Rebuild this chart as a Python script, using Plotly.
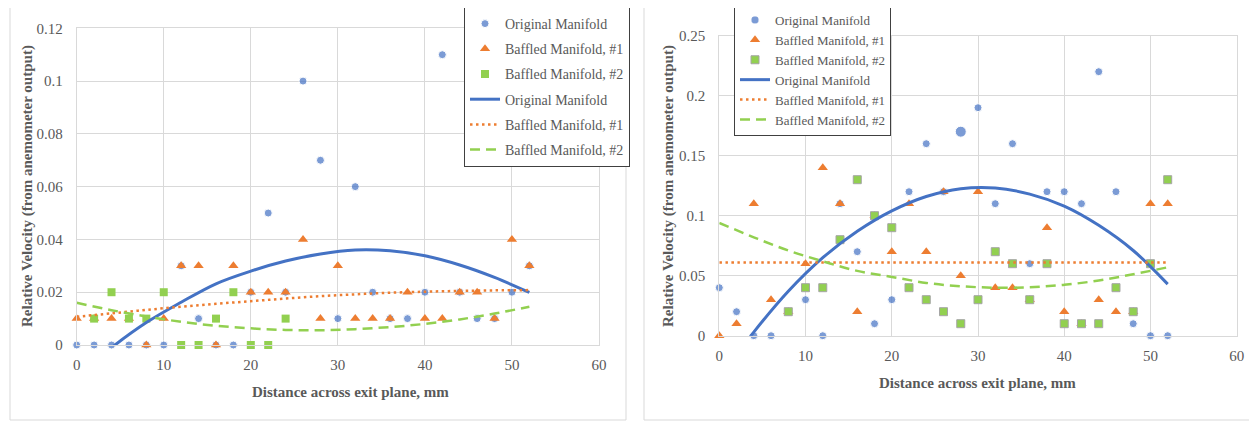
import plotly.graph_objects as go

# ---------------- data ----------------
X = [0, 2, 4, 6, 8, 10, 12, 14, 16, 18, 20, 22, 24, 26, 28, 30, 32, 34, 36, 38, 40, 42, 44, 46, 48, 50, 52]

LEFT_ORIGINAL = [0, 0, 0, 0, 0, 0, 0.03, 0.01, 0, 0, 0.02, 0.05, 0.02, 0.10, 0.07, 0.01,
                 0.06, 0.02, 0.01, 0.01, 0.02, 0.11, 0.02, 0.01, 0.01, 0.02, 0.03]
LEFT_BAFFLED1 = [0.01, 0.01, 0.01, 0.01, 0, 0.01, 0.03, 0.03, 0, 0.03, 0.02, 0.02, 0.02, 0.04, 0.01, 0.03,
                 0.01, 0.01, 0.01, 0.02, 0.01, 0.01, 0.02, 0.02, 0.01, 0.04, 0.03]
LEFT_BAFFLED2 = [None, 0.01, 0.02, 0.01, 0.01, 0.02, 0, 0, 0.01, 0.02, 0, 0, 0.01, None, None, None,
                 None, None, None, None, None, None, None, None, None, None, None]

RIGHT_ORIGINAL = [0.04, 0.02, 0, 0, 0.02, 0.03, 0, 0.11, 0.07, 0.01, 0.03, 0.12, 0.16, 0.12, 0.17, 0.19,
                  0.11, 0.16, 0.06, 0.12, 0.12, 0.11, 0.22, 0.12, 0.01, 0, 0]
RIGHT_BAFFLED1 = [0, 0.01, 0.11, 0.03, 0.02, 0.06, 0.14, 0.11, 0.02, 0.10, 0.07, 0.11, 0.07, 0.12, 0.05, 0.12,
                  0.04, 0.04, 0.03, 0.09, 0.02, 0.01, 0.03, 0.02, 0.02, 0.11, 0.11]
RIGHT_BAFFLED2 = [None, None, None, None, 0.02, 0.04, 0.04, 0.08, 0.13, 0.10, 0.09, 0.04, 0.03, 0.02, 0.01, 0.03,
                  0.07, 0.06, 0.03, 0.06, 0.01, 0.01, 0.01, 0.04, 0.02, 0.06, 0.13]

# trend lines
TREND_X = [0, 4, 8, 12, 16, 20, 24, 28, 32, 36, 40, 44, 48, 52]
LEFT_TREND_ORIGINAL = [-0.012, -0.001, 0.0085, 0.0162, 0.0232, 0.028, 0.0318, 0.0345, 0.0360, 0.0357,
                       0.0338, 0.0303, 0.0256, 0.0199]
LEFT_TREND_BAFFLED1 = [0.0107, 0.0120, 0.0133, 0.0145, 0.0156, 0.0166, 0.0176, 0.0185, 0.0192, 0.0198,
                       0.0202, 0.0205, 0.0207, 0.0208]
LEFT_TREND_BAFFLED2 = [0.0160, 0.0132, 0.0108, 0.0088, 0.0073, 0.0063, 0.0057, 0.0056, 0.0060, 0.0068,
                       0.0080, 0.0097, 0.0119, 0.0145]
RIGHT_TREND_ORIGINAL = [-0.035, 0.003, 0.037, 0.065, 0.087, 0.104, 0.116, 0.1225, 0.1231, 0.118,
                        0.108, 0.092, 0.071, 0.043]
RIGHT_TREND_BAFFLED1 = [0.061, 0.061, 0.061, 0.061, 0.061, 0.061, 0.061, 0.061, 0.061, 0.061,
                        0.061, 0.061, 0.061, 0.061]
RIGHT_TREND_BAFFLED2 = [0.094, 0.082, 0.071, 0.062, 0.054, 0.049, 0.044, 0.0412, 0.040, 0.0404,
                        0.0424, 0.046, 0.0512, 0.057]

SERIES_NAMES = ["Original Manifold", "Baffled Manifold, #1", "Baffled Manifold, #2"]
X_TICKS = [0, 10, 20, 30, 40, 50, 60]
LEFT_Y_TICKS = [0, 0.02, 0.04, 0.06, 0.08, 0.1, 0.12]
LEFT_Y_TICKTEXT = ["0", "0.02", "0.04", "0.06", "0.08", "0.1", "0.12"]
RIGHT_Y_TICKS = [0, 0.05, 0.1, 0.15, 0.2, 0.25]
RIGHT_Y_TICKTEXT = ["0", "0.05", "0.1", "0.15", "0.2", "0.25"]
X_TITLE = "Distance across exit plane, mm"
Y_TITLE = "Relative Velocity (from anemometer output)"

# ---------------- styling ----------------
W, H = 1257, 423          # target window
PAGE_OFFSET = 8           # default body margin of the written page
WF, HF = W - PAGE_OFFSET, H - PAGE_OFFSET
SERIF = "Liberation Serif, Times New Roman, serif"
GREY_TXT = "#595959"
GRID = "#D9D9D9"
BLUE, ORANGE, GREEN = "#4472C4", "#ED7D31", "#92D050"


def px(x):
    return (x - PAGE_OFFSET) / WF


def py(y):
    return (H - y) / HF


fig = go.Figure()


def add_panel(xa, ya, legend, orig, b1, b2, t_orig, t_b1, t_b2, green_border, big_idx=None):
    sizes = [8] * len(X)
    if big_idx is not None:
        sizes[big_idx] = 11
    common = dict(xaxis=xa, yaxis=ya, legend=legend, cliponaxis=False, mode="markers")
    fig.add_trace(go.Scatter(x=X, y=orig, name=SERIES_NAMES[0], legendgroup=legend + "a",
                             marker=dict(symbol="circle", size=sizes, color=BLUE), **common))
    fig.add_trace(go.Scatter(x=X, y=b1, name=SERIES_NAMES[1], legendgroup=legend + "b",
                             marker=dict(symbol="triangle-up", size=9, color=ORANGE), **common))
    fig.add_trace(go.Scatter(x=X, y=b2, name=SERIES_NAMES[2], legendgroup=legend + "c",
                             marker=dict(symbol="square", size=8, color=GREEN,
                                         line=dict(color="#A5A5A5" if green_border else GREEN,
                                                   width=1 if green_border else 0)),
                             **common))
    lcommon = dict(xaxis=xa, yaxis=ya, legend=legend, mode="lines", line_shape="spline")
    fig.add_trace(go.Scatter(x=TREND_X, y=t_orig, name=SERIES_NAMES[0], legendgroup=legend + "d",
                             line=dict(color=BLUE, width=3), **lcommon))
    fig.add_trace(go.Scatter(x=TREND_X, y=t_b1, name=SERIES_NAMES[1], legendgroup=legend + "e",
                             line=dict(color=ORANGE, width=2.5, dash="2.5px,3.5px"), **lcommon))
    fig.add_trace(go.Scatter(x=TREND_X, y=t_b2, name=SERIES_NAMES[2], legendgroup=legend + "f",
                             line=dict(color=GREEN, width=2.5, dash="10px,6px"), **lcommon))


add_panel("x", "y", "legend", LEFT_ORIGINAL, LEFT_BAFFLED1, LEFT_BAFFLED2,
          LEFT_TREND_ORIGINAL, LEFT_TREND_BAFFLED1, LEFT_TREND_BAFFLED2, False)
add_panel("x2", "y2", "legend2", RIGHT_ORIGINAL, RIGHT_BAFFLED1, RIGHT_BAFFLED2,
          RIGHT_TREND_ORIGINAL, RIGHT_TREND_BAFFLED1, RIGHT_TREND_BAFFLED2, True,
          big_idx=X.index(28))

tickfont = dict(family=SERIF, size=15, color=GREY_TXT)
xcommon = dict(range=[0, 60], tickvals=X_TICKS, showgrid=True, gridcolor=GRID, gridwidth=1,
               zeroline=False, showline=True, linecolor=GRID, linewidth=1, mirror=True,
               tickfont=tickfont, ticks="", ticklabelstandoff=6, fixedrange=True, automargin=False)
ycommon = dict(showgrid=True, gridcolor=GRID, gridwidth=1, zeroline=False, showline=True,
               linecolor=GRID, linewidth=1, mirror=True, tickfont=tickfont, ticks="",
               ticklabelstandoff=10, fixedrange=True, automargin=False)

legend_common = dict(xanchor="left", yanchor="top", bgcolor="white", bordercolor="#404040",
                     borderwidth=1, traceorder="grouped")

fig.update_layout(
    width=WF, height=HF, margin=dict(l=0, r=0, t=0, b=0, pad=0, autoexpand=False),
    paper_bgcolor="white", plot_bgcolor="white", showlegend=True,
    xaxis=dict(domain=[px(76.7), px(599)], anchor="y", **xcommon),
    yaxis=dict(domain=[py(345), py(28.3)], anchor="x", range=[0, 0.12],
               tickvals=LEFT_Y_TICKS, ticktext=LEFT_Y_TICKTEXT, **ycommon),
    xaxis2=dict(domain=[px(719.3), px(1236.7)], anchor="y2", **xcommon),
    yaxis2=dict(domain=[py(335.7), py(35.7)], anchor="x2", range=[0, 0.25],
                tickvals=RIGHT_Y_TICKS, ticktext=RIGHT_Y_TICKTEXT, **ycommon),
    legend=dict(x=px(464), y=py(7), tracegroupgap=4,
                font=dict(family=SERIF, size=14, color=GREY_TXT), **legend_common),
    legend2=dict(x=px(734), y=py(4), tracegroupgap=0,
                 font=dict(family=SERIF, size=13, color=GREY_TXT), **legend_common),
    shapes=[
        dict(type="rect", xref="paper", yref="paper", x0=px(10), x1=px(626), y0=py(420), y1=py(5),
             line=dict(color=GRID, width=1), layer="below"),
        dict(type="rect", xref="paper", yref="paper", x0=px(644), x1=px(1270), y0=py(420), y1=py(5),
             line=dict(color=GRID, width=1), layer="below"),
    ],
)

title_font = dict(family=SERIF, size=15, color=GREY_TXT)
for xc, yc in [(350, 392), (978, 383)]:
    fig.add_annotation(text="<b>" + X_TITLE + "</b>", xref="paper", yref="paper", x=px(xc), y=py(yc),
                       xanchor="center", yanchor="middle", showarrow=False, font=title_font)
for xc, yc in [(27, 186), (668, 186)]:
    fig.add_annotation(text="<b>" + Y_TITLE + "</b>", xref="paper", yref="paper", x=px(xc), y=py(yc),
                       xanchor="center", yanchor="middle", showarrow=False, textangle=-90,
                       font=title_font)

fig.write_html("out.html")
